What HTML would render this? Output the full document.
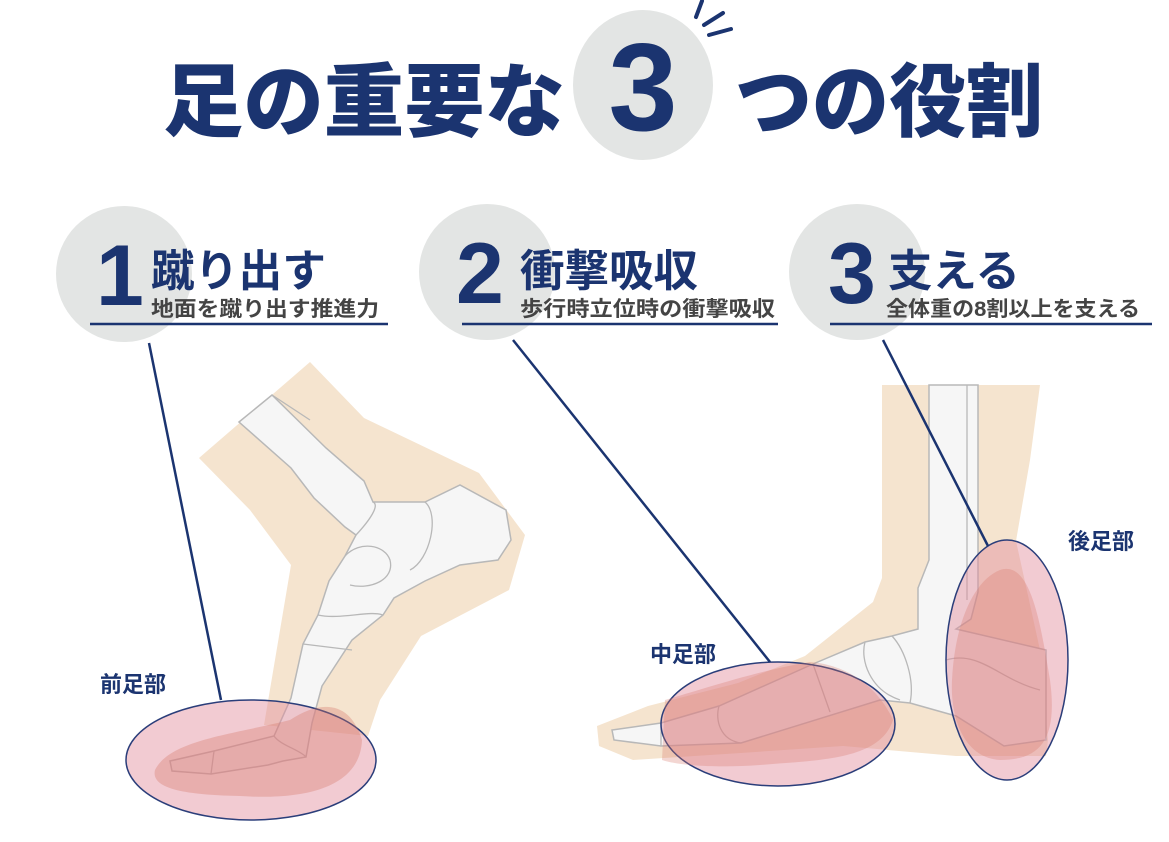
<!DOCTYPE html>
<html><head><meta charset="utf-8"><style>
html,body{margin:0;padding:0;background:#fff;}
svg{display:block;}
text{font-family:"Liberation Sans","Noto Sans CJK JP",sans-serif;}
</style></head><body>
<svg width="1169" height="842" viewBox="0 0 1169 842" xmlns="http://www.w3.org/2000/svg">
<!-- Title -->
<ellipse cx="643" cy="85" rx="70" ry="75" fill="#e3e5e4"/>
<g stroke="#1b3470" stroke-width="4" stroke-linecap="round">
<line x1="702" y1="1" x2="696" y2="17"/><line x1="723" y1="13" x2="704" y2="25"/><line x1="731" y1="29" x2="709" y2="35"/>
</g>
<text x="163" y="130" font-size="80" font-weight="900" fill="#1b3470" textLength="402" lengthAdjust="spacingAndGlyphs">足の重要な</text>
<text x="643" y="130" font-size="124" font-weight="700" fill="#1b3470" text-anchor="middle">3</text>
<text x="735" y="130" font-size="80" font-weight="900" fill="#1b3470" textLength="308" lengthAdjust="spacingAndGlyphs">つの役割</text>

<!-- headers -->
<g fill="#e3e5e4"><circle cx="124" cy="274" r="68"/><circle cx="487" cy="272" r="68"/><circle cx="857" cy="272" r="68"/></g>
<g fill="#1b3470" font-weight="700">
<text x="96" y="305" font-size="86">1</text>
<text x="456" y="303" font-size="86">2</text>
<text x="828" y="303" font-size="86">3</text>
<text x="151" y="286" font-size="44" textLength="175" lengthAdjust="spacingAndGlyphs">蹴り出す</text>
<text x="520" y="286" font-size="44" textLength="178" lengthAdjust="spacingAndGlyphs">衝撃吸収</text>
<text x="888" y="286" font-size="44" textLength="132" lengthAdjust="spacingAndGlyphs">支える</text>
</g>
<g fill="#444" font-size="21" font-weight="700">
<text x="151" y="316" textLength="228" lengthAdjust="spacingAndGlyphs">地面を蹴り出す推進力</text>
<text x="520" y="316" textLength="255" lengthAdjust="spacingAndGlyphs">歩行時立位時の衝撃吸収</text>
<text x="886" y="316" textLength="254" lengthAdjust="spacingAndGlyphs">全体重の8割以上を支える</text>
</g>
<g stroke="#1b3470" stroke-width="2.5">
<line x1="90" y1="324" x2="388" y2="324"/><line x1="462" y1="324" x2="778" y2="324"/><line x1="830" y1="324" x2="1152" y2="324"/>
</g>

<!-- Foot 1 -->
<path d="M199,458 L310,362 L364,418 L479,473 L525,535 L509,590 L421,636 L380,700 L368,736 L264,725 L291,565 L250,510 Z" fill="#f5e4cf"/>
<path d="M239,422 L272,395 L326,448 L364,481 L373,502 L425,502 L460,485 L506,510 L511,540 L498,560 L460,565 L425,581 L394,598 L383,615 L352,640 L322,686 L312,723 L306,757 L283,761 L268,765 L211,774 L172,771 L170,761 L214,751 L274,736 L291,698 L303,644 L318,615 L329,581 L345,556 L356,535 L345,527 L314,498 L291,468 Z" fill="#f6f6f6" stroke="#b8b8b8" stroke-width="1.5"/>
<g fill="none" stroke="#b8b8b8" stroke-width="1.3">
<path d="M272,395 L310,420"/><path d="M356,535 C370,520 380,505 373,502"/><path d="M425,502 C440,515 430,560 410,570"/>
<path d="M345,556 C360,540 385,545 390,560 C395,580 370,590 350,585"/><path d="M318,615 C340,620 370,610 383,615"/>
<path d="M303,644 L352,650"/><path d="M274,736 C280,745 300,750 306,757"/><path d="M211,774 L214,751"/>
</g>
<ellipse cx="251" cy="760" rx="125" ry="60" fill="rgba(226,140,155,0.45)" stroke="#2b3e7a" stroke-width="1.5"/>
<path d="M155,770 C170,740 230,735 290,720 C320,700 350,700 362,740 C360,790 300,800 240,796 C190,795 150,790 155,770 Z" fill="rgba(215,120,105,0.35)"/>
<line x1="149" y1="343" x2="221" y2="700" stroke="#1b3470" stroke-width="2.5"/>
<text x="100" y="692" font-size="22" font-weight="700" fill="#1b3470">前足部</text>

<!-- Foot 2 -->
<path d="M882,385 L1040,385 L1030,460 L1016,541 L1040,650 L1048,740 L1046,756 L956,756 L843,746 L741,753 L633,760 L599,746 L597,726 L648,706 L738,683 L805,656 L873,602 L882,578 Z" fill="#f5e4cf"/>
<path d="M929,385 L978,385 L978,592 L971,619 L956,629 L1046,650 L1046,740 L1004,746 L956,716 L910,703 L880,700 L741,743 L661,746 L614,740 L612,730 L661,723 L719,706 L813,664 L865,642 L892,636 L918,629 L918,588 L929,560 Z" fill="#f6f6f6" stroke="#b8b8b8" stroke-width="1.5"/>
<g fill="none" stroke="#b8b8b8" stroke-width="1.3">
<line x1="967" y1="385" x2="967" y2="600"/><path d="M865,642 C860,660 870,690 900,700"/><path d="M892,636 C905,650 915,680 910,703"/>
<path d="M813,664 L830,712"/><path d="M719,706 C715,720 720,740 741,743"/><path d="M661,723 L661,746"/>
<path d="M946,660 C980,650 1000,680 1040,690"/>
</g>
<ellipse cx="778" cy="724" rx="117" ry="62" fill="rgba(226,140,155,0.45)" stroke="#2b3e7a" stroke-width="1.5"/>
<path d="M665,700 C700,690 760,670 810,662 C850,665 880,690 893,720 C880,760 820,760 760,765 C720,768 680,766 662,760 Z" fill="rgba(215,120,105,0.3)"/>
<ellipse cx="1007" cy="660" rx="61" ry="120" fill="rgba(226,140,155,0.45)" stroke="#2b3e7a" stroke-width="1.5"/>
<path d="M1000,570 C1030,560 1040,620 1050,680 C1058,740 1040,760 1000,760 C965,758 950,720 952,680 C955,620 975,580 1000,570 Z" fill="rgba(215,120,105,0.3)"/>
<line x1="513" y1="340" x2="770" y2="662" stroke="#1b3470" stroke-width="2.5"/>
<line x1="883" y1="340" x2="988" y2="546" stroke="#1b3470" stroke-width="2.5"/>
<text x="650" y="662" font-size="22" font-weight="700" fill="#1b3470">中足部</text>
<text x="1068" y="549" font-size="22" font-weight="700" fill="#1b3470">後足部</text>
</svg>
</body></html>
